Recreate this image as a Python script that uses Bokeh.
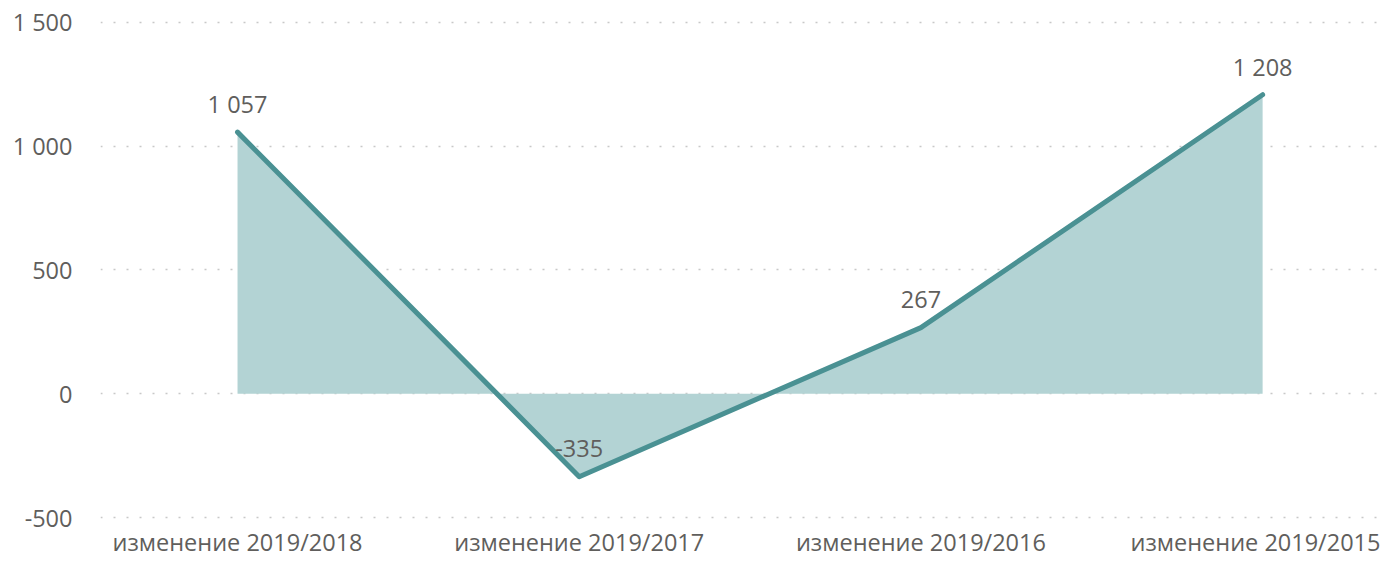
from bokeh.plotting import figure
from bokeh.models import ColumnDataSource, FixedTicker, Range1d
from bokeh.core.properties import value
from bokeh.embed import file_html
from bokeh.resources import INLINE

categories = ["изменение 2019/2018", "изменение 2019/2017", "изменение 2019/2016", "изменение 2019/2015"]
values = [1057, -335, 267, 1208]
labels = ["1 057", "-335", "267", "1 208"]
y_ticks = [-500, 0, 500, 1000, 1500]
y_tick_labels = ["-500", "0", "500", "1 000", "1 500"]

FONT = "Open Sans"
TEXT = "#605e5c"
FS = "23.5px"

xs = list(range(len(categories)))
src = ColumnDataSource(dict(x=xs, y=values, zero=[0] * len(xs), lab=labels))

p = figure(output_backend="svg", toolbar_location=None,
           frame_width=1280, frame_height=501,
           x_range=Range1d(-0.401, 3.345), y_range=Range1d(-508, 1516),
           min_border_left=100, min_border_right=0, min_border_top=18, min_border_bottom=0)
p.outline_line_color = None
p.background_fill_color = "white"

p.varea(x="x", y1="zero", y2="y", source=src, fill_color="#b3d3d4", fill_alpha=1.0)
p.line(x="x", y="y", source=src, line_color="#4a9193", line_width=5, line_cap="round", line_join="round")
p.text(x="x", y="y", text="lab", source=src, text_align="center", text_baseline="alphabetic",
       y_offset=-28, text_font=value(FONT), text_font_size=FS, text_color=TEXT)

p.xaxis.ticker = FixedTicker(ticks=xs)
p.xaxis.major_label_overrides = {i: c for i, c in zip(xs, categories)}
p.yaxis.ticker = FixedTicker(ticks=y_ticks)
p.yaxis.major_label_overrides = {t: l for t, l in zip(y_ticks, y_tick_labels)}

for ax in (p.xaxis, p.yaxis):
    ax.axis_line_color = None
    ax.major_tick_line_color = None
    ax.minor_tick_line_color = None
    ax.major_label_text_font = FONT
    ax.major_label_text_font_size = FS
    ax.major_label_text_color = TEXT
p.yaxis.major_label_standoff = 22
p.xaxis.major_label_standoff = 0

p.xgrid.grid_line_color = None
p.ygrid.grid_line_color = "#c8c8c8"
p.ygrid.grid_line_width = 1.5
p.ygrid.grid_line_dash = "2 11"

open("out.html", "w").write(file_html(p, INLINE))
